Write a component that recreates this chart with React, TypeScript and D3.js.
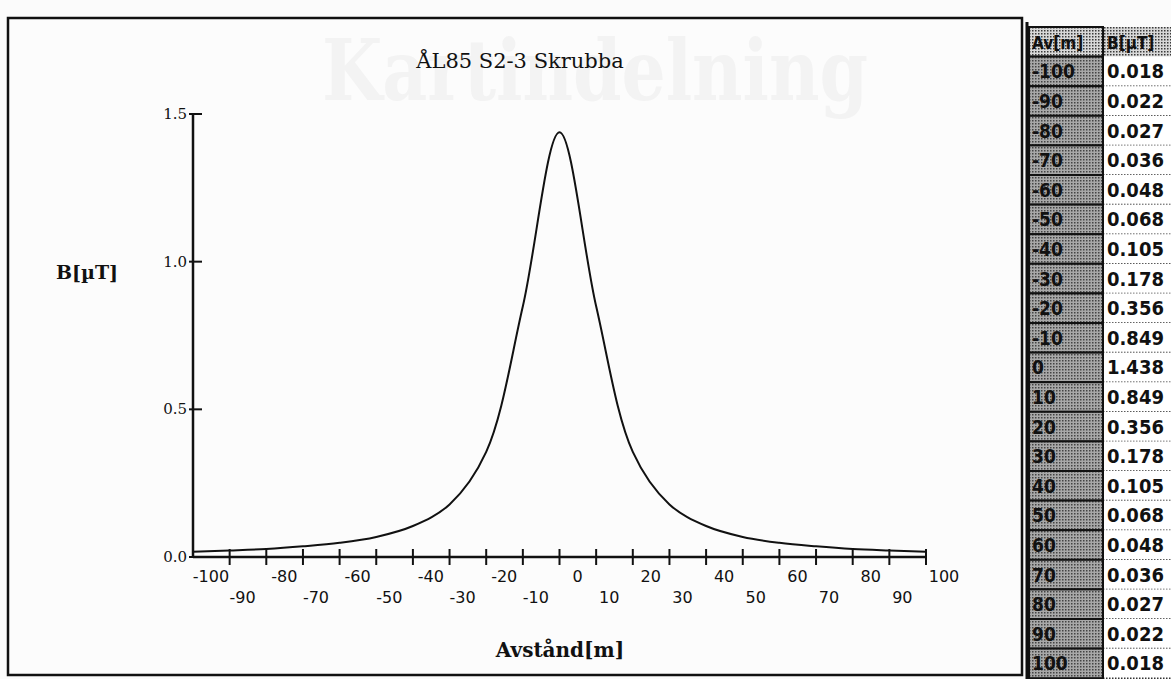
import { useMemo } from 'react';
import * as d3 from 'd3';

const distances = [-100, -90, -80, -70, -60, -50, -40, -30, -20, -10, 0, 10, 20, 30, 40, 50, 60, 70, 80, 90, 100];
const fieldValues = [0.018, 0.022, 0.027, 0.036, 0.048, 0.068, 0.105, 0.178, 0.356, 0.849, 1.438, 0.849, 0.356, 0.178, 0.105, 0.068, 0.048, 0.036, 0.027, 0.022, 0.018];
const fieldLabels = ['0.018', '0.022', '0.027', '0.036', '0.048', '0.068', '0.105', '0.178', '0.356', '0.849', '1.438', '0.849', '0.356', '0.178', '0.105', '0.068', '0.048', '0.036', '0.027', '0.022', '0.018'];
const yTicks = [0, 0.5, 1.0, 1.5];
const yTickLabels = ['0.0', '0.5', '1.0', '1.5'];
const xTicksUpper = [-100, -80, -60, -40, -20, 0, 20, 40, 60, 80, 100];
const xTicksLower = [-90, -70, -50, -30, -10, 10, 30, 50, 70, 90];
const xTickMarks = [-90, -80, -70, -60, -50, -40, -30, -20, -10, 0, 10, 20, 30, 40, 50, 60, 70, 80, 90, 100];

const W = 1171;
const H = 679;
const serif = '"DejaVu Serif", "Liberation Serif", serif';
const sans = '"DejaVu Sans", sans-serif';
const cond = '"DejaVu Sans Condensed", "Liberation Sans Narrow", "DejaVu Sans", sans-serif';

export default function App() {
  const x = useMemo(() => d3.scaleLinear().domain([-100, 100]).range([193, 926]), []);
  const y = useMemo(() => d3.scaleLinear().domain([0, 1.5]).range([557, 114]), []);

  const points = distances.map((d, i) => [d, fieldValues[i]] as [number, number]);
  const linePath = d3.line<[number, number]>()
    .x((d) => x(d[0]))
    .y((d) => y(d[1]))
    .curve(d3.curveCatmullRom.alpha(0.5))(points) || '';

  // table layout
  const tableTop = 27;
  const rowH = 29.6;
  const leftX = 1029;
  const midX = 1103;
  const rows = ['Av[m]', ...distances.map(String)];

  return (
    <svg width={W} height={H} style={{ position: 'absolute', left: 0, top: 0, background: '#fbfbfb' }}>
      <defs>
        <pattern id="dots" width="3" height="3" patternUnits="userSpaceOnUse">
          <rect width="3" height="3" fill="#a8a8a8" />
          <rect width="1.5" height="1.5" fill="#444" />
        </pattern>
        <pattern id="dotsLight" width="3" height="3" patternUnits="userSpaceOnUse">
          <rect width="3" height="3" fill="#d8d8d8" />
          <rect width="1.5" height="1.5" fill="#3a3a3a" />
        </pattern>
      </defs>

      {/* chart frame */}
      <rect x={8} y={18} width={1014} height={657} fill="#fcfcfc" />
      <text x={595} y={100} fontFamily={serif} fontWeight="bold" fontSize={84} fill="#f3f3f3"
        textAnchor="middle" textLength={546} lengthAdjust="spacingAndGlyphs">Kartindelning</text>
      <rect x={8} y={18} width={1014} height={657} fill="none" stroke="#111" strokeWidth={2.5} />

      <text x={520} y={68} fontFamily={serif} fontSize={21} fill="#111" textAnchor="middle">ÅL85 S2-3 Skrubba</text>

      {/* y axis */}
      <line x1={x(-100)} x2={x(-100)} y1={y(1.5)} y2={y(0)} stroke="#111" strokeWidth={2.5} />
      {yTicks.map((t, i) => (
        <g key={t}>
          <line x1={x(-100) - 4} x2={x(-100) + 9} y1={y(t)} y2={y(t)} stroke="#111" strokeWidth={2} />
          <text x={187} y={y(t) + 5} fontFamily={serif} fontSize={15} fill="#111" textAnchor="end">{yTickLabels[i]}</text>
        </g>
      ))}
      <text x={87} y={279} fontFamily={serif} fontWeight="bold" fontSize={19} fill="#111" textAnchor="middle">B[µT]</text>

      {/* x axis */}
      <line x1={x(-100)} x2={x(100)} y1={y(0)} y2={y(0)} stroke="#111" strokeWidth={2.5} />
      {xTickMarks.map((t) => (
        <line key={t} x1={x(t)} x2={x(t)} y1={y(0) - 8} y2={y(0) + 8} stroke="#111" strokeWidth={2} />
      ))}
      {xTicksUpper.map((t) => (
        <text key={t} x={x(t) + 18} y={582} fontFamily={sans} fontSize={16} fill="#111" textAnchor="middle">{t}</text>
      ))}
      {xTicksLower.map((t) => (
        <text key={t} x={x(t) + 13} y={603} fontFamily={sans} fontSize={16} fill="#111" textAnchor="middle">{t}</text>
      ))}
      <text x={560} y={657} fontFamily={serif} fontWeight="bold" fontSize={20} fill="#111" textAnchor="middle">Avstånd[m]</text>

      {/* field curve */}
      <path d={linePath} fill="none" stroke="#111" strokeWidth={2} />

      {/* data table */}
      <line x1={1027} x2={1027} y1={22} y2={H} stroke="#111" strokeWidth={3} />
      {rows.map((label, i) => {
        const top = tableTop + i * rowH;
        const header = i === 0;
        return (
          <g key={i}>
            <rect x={leftX} y={top} width={midX - leftX} height={rowH} fill={header ? 'url(#dotsLight)' : 'url(#dots)'} stroke="#111" strokeWidth={2} />
            <rect x={midX} y={top} width={W - midX} height={rowH}
              fill={header ? 'url(#dotsLight)' : '#ffffff'} />
            {!header && (
              <line x1={midX} x2={W} y1={top + rowH} y2={top + rowH} stroke="#333" strokeWidth={1.5} strokeDasharray="1.5,1.5" />
            )}
            <text x={leftX + 3} y={top + rowH / 2 + 7} fontFamily={cond} fontWeight="bold" fontSize={header ? 17 : 19} fill="#111">{label}</text>
            <text x={midX + 4} y={top + rowH / 2 + 7} fontFamily={cond} fontWeight="bold" fontSize={header ? 17 : 20} fill="#111">
              {header ? 'B[µT]' : fieldLabels[i - 1]}
            </text>
          </g>
        );
      })}
      <line x1={midX} x2={midX} y1={tableTop} y2={H} stroke="#111" strokeWidth={2} />
    </svg>
  );
}
